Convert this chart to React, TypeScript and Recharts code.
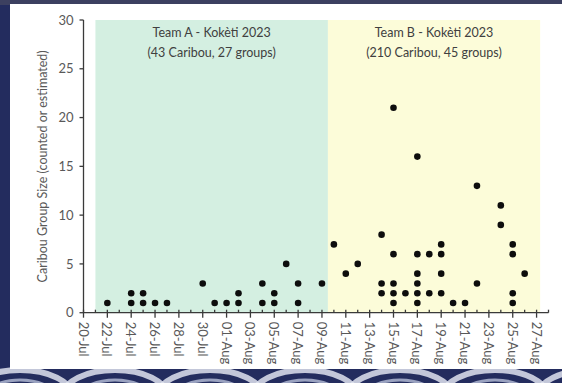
import React from "react";
import {
  ScatterChart,
  Scatter,
  XAxis,
  YAxis,
  ReferenceArea,
} from "recharts";

// Survey window starts on 20 July 2023; x values are days since then.
const START = Date.UTC(2023, 6, 20);
const DAY = 86400000;

// Team A sightings (date, group size)
const teamADates = [
  "2023-07-22", "2023-07-24", "2023-07-24", "2023-07-25", "2023-07-25",
  "2023-07-26", "2023-07-27", "2023-07-30", "2023-07-31", "2023-08-01",
  "2023-08-02", "2023-08-02", "2023-08-04", "2023-08-04", "2023-08-05",
  "2023-08-05", "2023-08-06", "2023-08-07", "2023-08-07", "2023-08-09",
];
const teamASizes = [1, 1, 2, 1, 2, 1, 1, 3, 1, 1, 1, 2, 1, 3, 1, 2, 5, 1, 3, 3];

// Team B sightings (date, group size)
const teamBDates = [
  "2023-08-10", "2023-08-11", "2023-08-12",
  "2023-08-14", "2023-08-14", "2023-08-14",
  "2023-08-15", "2023-08-15", "2023-08-15", "2023-08-15", "2023-08-15",
  "2023-08-16",
  "2023-08-17", "2023-08-17", "2023-08-17", "2023-08-17", "2023-08-17", "2023-08-17",
  "2023-08-18", "2023-08-18",
  "2023-08-19", "2023-08-19", "2023-08-19", "2023-08-19",
  "2023-08-20", "2023-08-21",
  "2023-08-22", "2023-08-22",
  "2023-08-24", "2023-08-24",
  "2023-08-25", "2023-08-25", "2023-08-25", "2023-08-25",
  "2023-08-26",
];
const teamBSizes = [
  7, 4, 5,
  8, 3, 2,
  21, 6, 3, 2, 1,
  2,
  16, 6, 4, 3, 2, 1,
  6, 2,
  7, 6, 4, 2,
  1, 1,
  13, 3,
  11, 9,
  7, 6, 2, 1,
  4,
];

// Shaded survey periods (day offsets) and their captions
const teamAPeriod = [1.0, 20.5];
const teamBPeriod = [20.5, 38.3];
const teamACaption = ["Team A - Kokèti 2023", "(43 Caribou, 27 groups)"];
const teamBCaption = ["Team B - Kokèti 2023", "(210 Caribou, 45 groups)"];

const yTicks = [0, 5, 10, 15, 20, 25, 30];
const dayTicks = Array.from({ length: 40 }, (_, i) => i);
const MONTHS = ["Jan", "Feb", "Mar", "Apr", "May", "Jun", "Jul", "Aug", "Sep", "Oct", "Nov", "Dec"];

const toDay = (iso: string) => {
  const [y, m, d] = iso.split("-").map(Number);
  return Math.round((Date.UTC(y, m - 1, d) - START) / DAY);
};
const dayLabel = (n: number) => {
  const d = new Date(START + n * DAY);
  return `${String(d.getUTCDate()).padStart(2, "0")}-${MONTHS[d.getUTCMonth()]}`;
};

const teamA = teamADates.map((d, i) => ({ day: toDay(d), size: teamASizes[i] }));
const teamB = teamBDates.map((d, i) => ({ day: toDay(d), size: teamBSizes[i] }));

const FONT = "Lato, 'Liberation Sans', sans-serif";
const AXIS = "#3a3a3a";
const LABEL = "#595959";

const Dot = (props: any) => <circle cx={props.cx} cy={props.cy} r={3.3} fill="#0d0d0d" />;

const DayTick = (props: any) => {
  const { x, y, payload } = props;
  const n = payload.value as number;
  const major = n % 2 === 0;
  return (
    <g>
      <line x1={x} x2={x} y1={y - 3} y2={major ? y + 5 : y} stroke={AXIS} strokeWidth={1.3} />
      {major && (
        <text
          x={x}
          y={y + 9}
          transform={`rotate(90, ${x}, ${y + 9})`}
          textAnchor="start"
          dominantBaseline="central"
          fontFamily={FONT}
          fontSize={13}
          fill={LABEL}
        >
          {dayLabel(n)}
        </text>
      )}
    </g>
  );
};

const Caption = (lines: string[]) => (props: any) => {
  const { x, y, width } = props.viewBox;
  const cx = x + width / 2;
  return (
    <text textAnchor="middle" fontFamily={FONT} fontSize={12.5} fill="#404040">
      <tspan x={cx} y={y + 17}>{lines[0]}</tspan>
      <tspan x={cx} y={y + 37}>{lines[1]}</tspan>
    </text>
  );
};

// Swirl decoration along the lower edge of the backdrop
const swirls = [0, 1, 2, 3, 4, 5, 6];

export default function App() {
  return (
    <div
      style={{
        position: "absolute",
        left: 0,
        top: 0,
        width: 562,
        height: 383,
        background: "#232c5e",
        overflow: "hidden",
      }}
    >
      <svg width={562} height={383} style={{ position: "absolute", left: 0, top: 0 }}>
        <rect x={0} y={0} width={562} height={5} fill="#3c4060" />
        {swirls.map((i) => (
          <g key={i}>
            <ellipse cx={i * 95 + 20} cy={396} rx={52} ry={26} fill="none" stroke="#dfe3ee" strokeWidth={6} opacity={0.85} />
            <ellipse cx={i * 95 + 20} cy={398} rx={36} ry={18} fill="none" stroke="#b8c0d8" strokeWidth={3} opacity={0.8} />
          </g>
        ))}
      </svg>
      <div
        style={{
          position: "absolute",
          left: 10,
          top: 4,
          width: 552,
          height: 365,
          background: "#ffffff",
        }}
      />
      <div style={{ position: "absolute", left: 0, top: 0 }}>
        <ScatterChart
          width={562}
          height={383}
          margin={{ top: 20, right: 13.5, bottom: 20.3, left: 23.5 }}
        >
          <ReferenceArea
            x1={teamAPeriod[0]}
            x2={teamAPeriod[1]}
            y1={0}
            y2={30}
            fill="#d4efe1"
            fillOpacity={1}
            stroke="none"
            ifOverflow="visible"
            label={Caption(teamACaption)}
          />
          <ReferenceArea
            x1={teamBPeriod[0]}
            x2={teamBPeriod[1]}
            y1={0}
            y2={30}
            fill="#fcfcd9"
            fillOpacity={1}
            stroke="none"
            ifOverflow="visible"
            label={Caption(teamBCaption)}
          />
          <XAxis
            type="number"
            dataKey="day"
            domain={[0, 39]}
            ticks={dayTicks}
            interval={0}
            height={50}
            tickLine={false}
            tickSize={0}
            tickMargin={0}
            tick={<DayTick />}
            axisLine={{ stroke: AXIS, strokeWidth: 1.3 }}
            allowDecimals={false}
          />
          <YAxis
            type="number"
            dataKey="size"
            domain={[0, 30]}
            ticks={yTicks}
            interval={0}
            width={60}
            tickSize={4}
            tickMargin={6}
            tickLine={{ stroke: AXIS, strokeWidth: 1.3 }}
            axisLine={{ stroke: AXIS, strokeWidth: 1.3 }}
            tick={{ fontFamily: FONT, fontSize: 13, fill: LABEL }}
            label={{
              value: "Caribou Group Size (counted or estimated)",
              angle: -90,
              position: "center",
              dx: -11,
              style: { fontFamily: FONT, fontSize: 12.5, fill: LABEL },
            }}
          />
          <Scatter data={teamA} shape={<Dot />} isAnimationActive={false} />
          <Scatter data={teamB} shape={<Dot />} isAnimationActive={false} />
        </ScatterChart>
      </div>
    </div>
  );
}
